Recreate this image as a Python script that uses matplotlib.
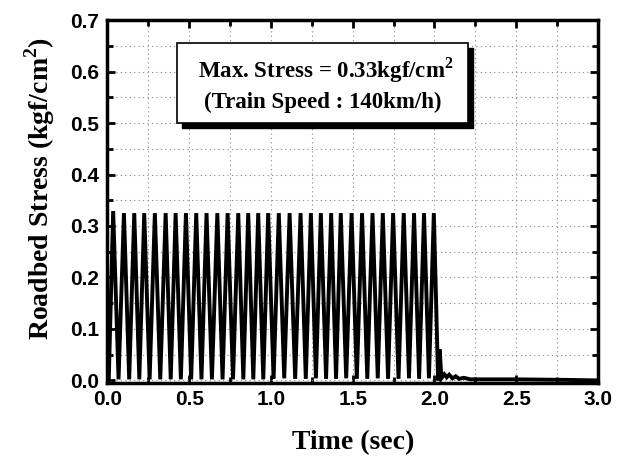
import matplotlib
matplotlib.use("Agg")
import matplotlib.pyplot as plt
from matplotlib.patches import Rectangle
from matplotlib.ticker import MultipleLocator, FormatStrFormatter

# ---- data ----
peak_times = [0.035, 0.101, 0.164, 0.225, 0.290, 0.356, 0.417, 0.480, 0.543, 0.606,
              0.672, 0.735, 0.800, 0.861, 0.922, 0.983, 1.048, 1.114, 1.181, 1.244,
              1.305, 1.368, 1.427, 1.493, 1.557, 1.621, 1.684, 1.747, 1.812, 1.875,
              1.936, 1.996]
peak_values = [0.329, 0.325, 0.325, 0.325, 0.325, 0.325, 0.325, 0.325, 0.325, 0.325,
               0.325, 0.325, 0.325, 0.325, 0.325, 0.325, 0.325, 0.325, 0.325, 0.325,
               0.325, 0.325, 0.325, 0.325, 0.325, 0.325, 0.325, 0.325, 0.325, 0.325,
               0.325, 0.325]
trough_times = [0.068, 0.133, 0.195, 0.258, 0.323, 0.387, 0.449, 0.512, 0.575, 0.639,
                0.704, 0.768, 0.831, 0.892, 0.953, 1.016, 1.081, 1.148, 1.213, 1.275,
                1.337, 1.398, 1.460, 1.525, 1.589, 1.653, 1.716, 1.780, 1.844, 1.906,
                1.966]
trough_values = [0.002, 0.002, 0.002, 0.002, 0.002, 0.002, 0.002, 0.002, 0.002, 0.002,
                 0.002, 0.002, 0.002, 0.002, 0.002, 0.003, 0.004, 0.003, 0.003, 0.004,
                 0.003, 0.003, 0.004, 0.003, 0.003, 0.004, 0.003, 0.003, 0.004, 0.003,
                 0.004]
start_time, start_value = [0.008], [0.0]
tail_times = [2.022, 2.032, 2.042, 2.06, 2.075, 2.09, 2.11, 2.13, 2.15, 2.18, 2.22, 2.5, 2.8, 3.0]
tail_values = [0.0, 0.06, 0.004, 0.012, 0.006, 0.011, 0.004, 0.008, 0.003, 0.005, 0.002, 0.002, 0.001, 0.0]

box_lines = ["Max. Stress = 0.33kgf/cm$^\\mathbf{2}$", "(Train Speed : 140km/h)"]
x_label = "Time (sec)"
y_label = "Roadbed Stress (kgf/cm$^\\mathbf{2}$)"

# build the series (peaks and troughs alternate)
t = list(start_time)
y = list(start_value)
for i, (pt, pv) in enumerate(zip(peak_times, peak_values)):
    t.append(pt); y.append(pv)
    if i < len(trough_times):
        t.append(trough_times[i]); y.append(trough_values[i])
t += tail_times
y += tail_values

plt.rcParams['mathtext.fontset'] = 'custom'
plt.rcParams['mathtext.rm'] = 'Liberation Serif:bold'
plt.rcParams['mathtext.bf'] = 'Liberation Serif:bold'

fig = plt.figure(figsize=(6.21, 4.57), dpi=100)
ax = fig.add_axes([0.173, 0.162, 0.790, 0.794])

ax.plot(t, y, color='black', lw=2.8, solid_joinstyle='miter', zorder=3)

ax.set_xlim(0, 3.0)
ax.set_ylim(-0.005, 0.7)
ax.xaxis.set_major_locator(MultipleLocator(0.5))
ax.xaxis.set_minor_locator(MultipleLocator(0.25))
ax.yaxis.set_major_locator(MultipleLocator(0.1))
ax.yaxis.set_minor_locator(MultipleLocator(0.05))
ax.grid(True, which='both', color='#888888', ls=(0, (1, 3)), lw=0.8)
ax.tick_params(which='both', direction='in', top=True, right=True, width=2)
ax.tick_params(which='major', length=6)
ax.tick_params(which='minor', length=4)
ax.tick_params(axis='y', pad=6)
ax.tick_params(axis='x', pad=5)
for s in ax.spines.values():
    s.set_linewidth(2.5)

ax.xaxis.set_major_formatter(FormatStrFormatter('%.1f'))
ax.yaxis.set_major_formatter(FormatStrFormatter('%.1f'))
for lab in ax.get_xticklabels() + ax.get_yticklabels():
    lab.set_fontfamily('Liberation Sans')
    lab.set_fontweight('bold')
    lab.set_fontsize(15)

ax.set_xlabel(x_label, fontfamily='Liberation Serif', fontweight='bold', fontsize=20)
ax.set_ylabel(y_label, fontfamily='Liberation Serif', fontweight='bold', fontsize=20)
ax.xaxis.set_label_coords(0.5, -0.165)
ax.yaxis.set_label_coords(-0.139, 0.537)
ax.xaxis.label.set_va('center')
ax.yaxis.label.set_va('center')

# text box with shadow
bx0, by0, bx1, by1 = 0.425, 0.501, 2.204, 0.655
shadow = Rectangle((bx0 + 0.03, by0 - 0.010), bx1 - bx0, by1 - by0,
                   facecolor='black', edgecolor='black', zorder=5)
box = Rectangle((bx0, by0), bx1 - bx0, by1 - by0,
                facecolor='white', edgecolor='black', lw=1.2, zorder=6)
ax.add_patch(shadow)
ax.add_patch(box)
cx = (bx0 + bx1) / 2
ax.text(cx + 0.02, 0.602, box_lines[0], ha='center', va='center', fontfamily='Liberation Serif',
        fontweight='bold', fontsize=16.5, zorder=7)
ax.text(cx, 0.540, box_lines[1], ha='center', va='center', fontfamily='Liberation Serif',
        fontweight='bold', fontsize=16.5, zorder=7)

fig.savefig('out.png', dpi=100)
